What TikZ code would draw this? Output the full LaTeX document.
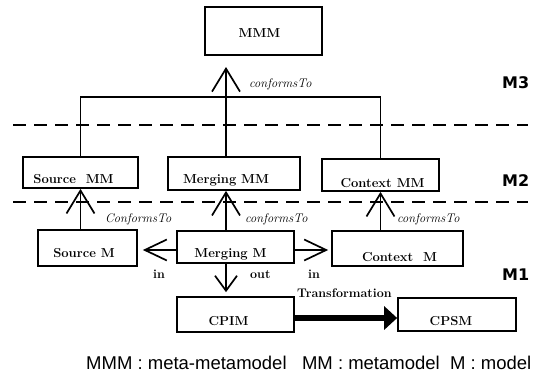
\documentclass[tikz,border=0pt]{standalone}
\usepackage{fontspec}
\newfontfamily\legendfont{Liberation Sans}
\newfontfamily\layerfont{DejaVu Sans}
\usetikzlibrary{arrows.meta}
% shift a box text sideways by half of #1
\newcommand{\offtext}[2]{\makebox[0pt]{\hspace{#1}#2}}

\begin{document}
\begin{tikzpicture}[
    x=1pt, y=-1pt,
    mbox/.style={rectangle, draw, line width=1.7pt, inner sep=0pt, font=\fontsize{13}{15}\selectfont\bfseries},
    lbl/.style={inner sep=0pt, anchor=base west, font=\fontsize{12.5}{15}\selectfont\itshape},
    iolbl/.style={inner sep=0pt, anchor=base west, font=\fontsize{12.5}{15}\selectfont\bfseries},
    layertag/.style={inner sep=0pt, anchor=base west, font=\layerfont\bfseries\fontsize{16}{19}\selectfont},
    boundary/.style={line width=1.7pt, dash pattern=on 13pt off 8pt},
    link/.style={line width=1.7pt},
    conform/.style={link, -{Straight Barb[length=23pt, width=28pt]}},
    inarrow/.style={link, -{Straight Barb[length=22pt, width=21pt]}},
    outarrow/.style={link, -{Straight Barb[length=15pt, width=22pt]}},
    transarrow/.style={line width=6pt, -{Triangle[length=13pt, width=23pt]}}
]
\useasboundingbox (0,0) rectangle (537,376);

% M3
\node[mbox, minimum width=117pt, text height=30pt, text depth=18pt] (MMM) at (263.5, 31) {\offtext{-8pt}{MMM}};

% M2
\node[mbox, minimum width=115pt, text height=26pt, text depth=5pt] (SrcMM) at (80.5, 172.5) {\offtext{-14pt}{Source~~MM}};
\node[mbox, minimum width=132pt, text height=26pt, text depth=7pt] (MrgMM) at (234, 173.5) {\offtext{-16pt}{Merging MM}};
\node[mbox, minimum width=117pt, text height=28pt, text depth=4pt] (CtxMM) at (380.5, 175) {\offtext{4pt}{Context MM}};

% M1
\node[mbox, minimum width=99pt, text height=27pt, text depth=9pt] (SrcM) at (87.5, 248) {\offtext{-7pt}{Source M}};
\node[mbox, minimum width=117pt, text height=26pt, text depth=6pt] (MrgM) at (235.5, 247) {\offtext{-10pt}{Merging M}};
\node[mbox, minimum width=131pt, text height=30pt, text depth=5pt] (CtxM) at (397.5, 248.5) {\offtext{4pt}{Context~~M}};
\node[mbox, minimum width=117pt, text height=28pt, text depth=7pt] (CPIM) at (235.5, 314.5) {\offtext{-14pt}{CPIM}};
\node[mbox, minimum width=118pt, text height=27pt, text depth=6pt] (CPSM) at (457, 314.5) {\offtext{-12pt}{CPSM}};

\coordinate (hub) at (226, 97);
\coordinate (tip) at (226, 67);

% Level boundaries
\draw[boundary] (13,125) -- (528,125);
\draw[boundary] (13,202) -- (528,202);

% Connections
\draw[link] (SrcMM.north) |- (hub) -| (CtxMM.north);
\draw[conform] (MrgMM.north -| hub) -- (tip);
\draw[conform] (SrcM.north -| SrcMM.south) -- (SrcMM.south);
\draw[conform] (MrgM.north -| hub) -- (MrgMM.south -| hub);
\draw[conform] (CtxM.north -| CtxMM.south) -- (CtxMM.south);
\draw[inarrow, shorten >=5pt] ([yshift=-3pt]MrgM.west) -- ([yshift=-2pt]SrcM.east);
\draw[inarrow, shorten >=3pt] ([yshift=-3pt]MrgM.east) -- ([yshift=-1.5pt]CtxM.west);
\draw[outarrow, shorten >=4pt] (MrgM.south -| hub) -- (CPIM.north -| hub);
\draw[transarrow] ([yshift=-3.5pt]CPIM.east) -- ([yshift=-3.5pt]CPSM.west);

% Labels
\node[lbl] (conf3) at (249, 87) {conformsTo};
\node[lbl] (confS) at (105, 222) {ConformsTo};
\node[lbl] (confM) at (245, 222) {conformsTo};
\node[lbl] (confC) at (397, 222) {conformsTo};
\node[iolbl] (inS) at (153, 278) {in};
\node[iolbl] (outM) at (250, 278) {out};
\node[iolbl] (inC) at (308, 278) {in};
\node[iolbl] (trans) at (297, 297) {Transformation};

\node[layertag] (M3) at (502, 88) {M3};
\node[layertag] (M2) at (502, 186) {M2};
\node[layertag] (M1) at (502, 280) {M1};

\node[inner sep=0pt, anchor=base west, font=\legendfont\fontsize{18.5}{21}\selectfont] (legend) at (86, 369)
    {MMM : meta-metamodel~~~MM : metamodel~~M : model};
\end{tikzpicture}
\end{document}
